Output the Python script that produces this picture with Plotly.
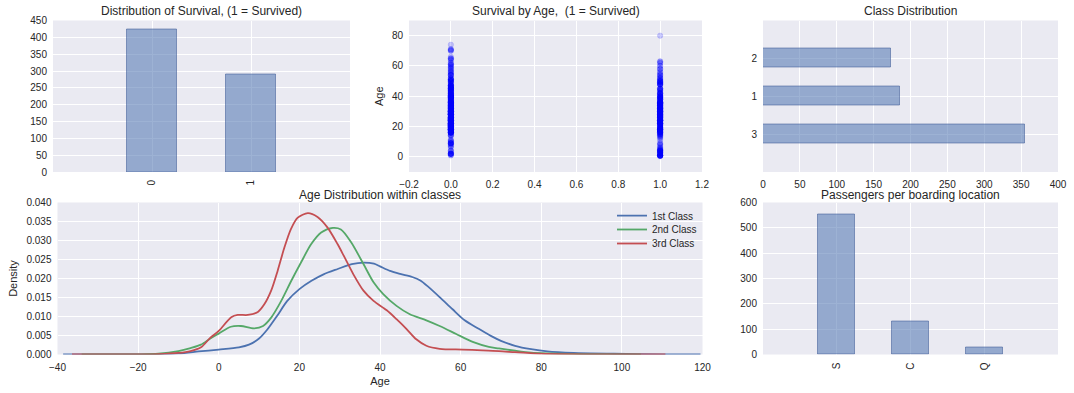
import plotly.graph_objects as go

# ---------------- data ----------------
survival_labels = ["0", "1"]
survival_counts = [424, 290]

died_ages = [1, 2, 3, 4, 6, 7, 8, 9, 10, 11, 14, 14.5, 15, 16, 17, 18, 19, 20, 20.5, 21, 22, 23, 24, 24.5,
             25, 26, 27, 28, 28.5, 29, 30, 30.5, 31, 32, 32.5, 33, 34, 34.5, 35, 36, 36.5, 37, 38, 39,
             40, 40.5, 41, 42, 43, 44, 45, 45.5, 46, 47, 48, 49, 50, 51, 52, 54, 55, 55.5, 56, 57, 58,
             59, 60, 61, 62, 64, 65, 66, 70, 70.5, 71, 74]
died_counts = [2, 7, 1, 3, 1, 2, 2, 6, 2, 3, 3, 1, 1, 11, 7, 17, 16, 12, 1, 19, 16, 10, 15, 1,
               17, 12, 7, 18, 2, 12, 15, 2, 8, 9, 1, 9, 9, 1, 7, 11, 1, 5, 5, 9,
               9, 2, 4, 7, 4, 6, 7, 2, 3, 8, 3, 2, 5, 5, 3, 5, 1, 1, 2, 2, 2,
               2, 2, 3, 2, 2, 3, 1, 2, 1, 2, 1]
surv_ages = [0.42, 0.67, 0.75, 0.83, 0.92, 1, 2, 3, 4, 5, 6, 7, 8, 9, 11, 12, 13, 14, 15, 16, 17, 18, 19,
             20, 21, 22, 23, 24, 25, 26, 27, 28, 29, 30, 31, 32, 32.5, 33, 34, 35, 36, 37, 38, 39, 40,
             41, 42, 43, 44, 45, 47, 48, 49, 50, 51, 52, 53, 54, 55, 56, 58, 60, 62, 63, 80]
surv_counts = [1, 1, 2, 2, 1, 5, 3, 5, 7, 4, 2, 1, 2, 2, 1, 1, 2, 3, 4, 6, 6, 9, 9,
               3, 5, 11, 5, 15, 6, 6, 11, 7, 8, 10, 7, 9, 1, 6, 6, 11, 11, 1, 6, 5, 6,
               2, 6, 1, 3, 5, 1, 6, 4, 5, 2, 3, 1, 3, 1, 2, 3, 2, 2, 2, 1]

class_labels = ["3", "1", "2"]
class_counts = [355, 186, 173]

kde1_x = [-38.6, -30, -20, -15, -10, -5, 0, 5, 7.5, 10, 12, 14.5, 17, 20, 23, 26, 29.5, 33, 36, 38.5,
          40, 42.5, 45, 48, 50, 52, 55, 58, 61, 64.6, 67.5, 70, 73.5, 77.5, 81.5, 88, 98, 110, 119.5]
kde1_y = [0.0, 0.00001, 0.00003, 0.0001, 0.0003, 0.0008, 0.0013, 0.0019, 0.0026, 0.0042, 0.0065,
          0.0102, 0.0141, 0.0172, 0.0194, 0.0211, 0.0225, 0.0238, 0.0242, 0.0239, 0.0232, 0.0220,
          0.0212, 0.0204, 0.0195, 0.0178, 0.0149, 0.0119, 0.0090, 0.0067, 0.0049, 0.0036, 0.0023,
          0.0014, 0.0008, 0.0004, 0.0002, 0.00005, 0.0]

kde2_x = [-34, -25, -20, -15, -10, -7, -4.4, -2, 0, 3, 5.5, 8.8, 11, 13, 15.5, 18, 20.4, 22.9, 25.4,
          28.3, 30.3, 32.8, 35.9, 38.4, 40.8, 44.1, 47.4, 51.5, 54.8, 58.9, 63, 67, 69.5, 73.5, 77.5,
          82, 90, 104.7]
kde2_y = [0.0, 0.00001, 0.00004, 0.0002, 0.0009, 0.0017, 0.0026, 0.0043, 0.0055, 0.0073, 0.0075,
          0.0069, 0.0075, 0.0097, 0.0141, 0.0194, 0.0242, 0.0290, 0.0321, 0.0333, 0.0329, 0.0296,
          0.0238, 0.0190, 0.0159, 0.0128, 0.0106, 0.0090, 0.0075, 0.0054, 0.0033, 0.0020, 0.0016,
          0.0010, 0.0005, 0.0003, 0.0001, 0.0]

kde3_x = [-36.4, -25, -20, -15, -10, -7, -4.4, -2, 0, 3.1, 4.7, 7.2, 9.7, 11.3, 13, 14.6, 16.3, 17.9,
          19.6, 22.1, 24.5, 27, 29.5, 31, 33.4, 35.9, 38.4, 41.6, 44.1, 46.6, 49, 51.5, 54.8, 60.5,
          65.4, 69.5, 73.5, 78, 85, 95, 110.8]
kde3_y = [0.0, 0.00001, 0.00003, 0.0001, 0.0004, 0.0009, 0.0019, 0.0045, 0.0062, 0.0098, 0.0104,
          0.0104, 0.0112, 0.0132, 0.0168, 0.0220, 0.0282, 0.0330, 0.0360, 0.0372, 0.0362, 0.0334,
          0.0290, 0.0260, 0.0211, 0.0168, 0.0141, 0.0117, 0.0093, 0.0067, 0.0040, 0.0023, 0.0015,
          0.0013, 0.0011, 0.0009, 0.0006, 0.0003, 0.0001, 0.00003, 0.0]
kde_names = ["1st Class", "2nd Class", "3rd Class"]

embark_labels = ["S", "C", "Q"]
embark_counts = [554, 130, 28]

# ---------------- style ----------------
W, H = 1074, 393
FONT = "Liberation Sans, Arial, sans-serif"
TXT = "#262626"
BG = "#EAEAF2"
BAR_FILL = "rgba(76,114,176,0.55)"
BAR_EDGE = "rgba(60,90,150,0.55)"
C_DEEP = ["#4C72B0", "#55A868", "#C44E52"]


def px_x(a, b):
    return [a / W, b / W]


def px_y(top, bottom):
    return [1 - bottom / H, 1 - top / H]


fig = go.Figure()

# top-left: survival distribution
fig.add_trace(go.Bar(x=[0, 1], y=survival_counts, width=0.5, marker=dict(color=BAR_FILL, line=dict(color=BAR_EDGE, width=1)),
                     xaxis="x", yaxis="y", showlegend=False))

# top-middle: survival by age scatter
sx, sy = [], []
for a, c in zip(died_ages, died_counts):
    sx += [0] * c
    sy += [a] * c
for a, c in zip(surv_ages, surv_counts):
    sx += [1] * c
    sy += [a] * c
fig.add_trace(go.Scatter(x=sx, y=sy, mode="markers",
                         marker=dict(size=5.5, color="rgba(0,0,255,0.2)", line=dict(width=0.5, color="rgba(0,0,255,0.2)")),
                         xaxis="x2", yaxis="y2", showlegend=False))

# top-right: class distribution
fig.add_trace(go.Bar(y=[0, 1, 2], x=class_counts, orientation="h", width=0.5,
                     marker=dict(color=BAR_FILL, line=dict(color=BAR_EDGE, width=1)),
                     xaxis="x3", yaxis="y3", showlegend=False))

# bottom-left: KDE (one legend box per entry so rows sit close together)
legend_ids = ["legend", "legend2", "legend3"]
for kx, ky, nm, col, lg in zip([kde1_x, kde2_x, kde3_x], [kde1_y, kde2_y, kde3_y], kde_names, C_DEEP, legend_ids):
    fig.add_trace(go.Scatter(x=kx, y=ky, mode="lines", name=nm, legend=lg,
                             line=dict(color=col, width=1.8, shape="spline", smoothing=0.8),
                             xaxis="x4", yaxis="y4"))

# bottom-right: embarkation
fig.add_trace(go.Bar(x=[0, 1, 2], y=embark_counts, width=0.5, marker=dict(color=BAR_FILL, line=dict(color=BAR_EDGE, width=1)),
                     xaxis="x5", yaxis="y5", showlegend=False))

tickfont = dict(family=FONT, size=10, color=TXT)
common = dict(showgrid=True, gridcolor="white", gridwidth=1, zeroline=False, showline=False,
              ticks="", tickfont=tickfont, ticklabelstandoff=5, fixedrange=True)

TOP = px_y(20.5, 172)
BOT = px_y(202.5, 354.5)

leg_common = dict(xanchor="left", yanchor="middle", bgcolor="rgba(0,0,0,0)",
                  font=dict(family=FONT, size=10, color=TXT), itemwidth=30)
LEG_X = 612 / W

fig.update_layout(
    width=W, height=H, margin=dict(l=0, r=0, t=0, b=0, autoexpand=False),
    paper_bgcolor="white", plot_bgcolor=BG,
    font=dict(family=FONT, size=10, color=TXT),
    bargap=0,
    xaxis=dict(domain=px_x(53, 350), range=[-1, 2], tickvals=[0, 1], ticktext=survival_labels,
               tickangle=-90, anchor="y", **common),
    yaxis=dict(domain=TOP, range=[0, 450], dtick=50, anchor="x", **common),
    xaxis2=dict(domain=px_x(409, 702), range=[-0.2, 1.2], dtick=0.2, tickformat=".1f", anchor="y2", **common),
    yaxis2=dict(domain=TOP, range=[-10, 90], tickvals=[0, 20, 40, 60, 80], anchor="x2",
                title=dict(text="Age", font=dict(family=FONT, size=11, color=TXT), standoff=6), **common),
    xaxis3=dict(domain=px_x(763, 1058), range=[0, 400], dtick=50, anchor="y3", **common),
    yaxis3=dict(domain=TOP, range=[-1, 3], tickvals=[0, 1, 2], ticktext=class_labels, anchor="x3", **common),
    xaxis4=dict(domain=px_x(57.5, 702.5), range=[-40, 120], dtick=20, anchor="y4",
                title=dict(text="Age", font=dict(family=FONT, size=11, color=TXT), standoff=5), **common),
    yaxis4=dict(domain=BOT, range=[0, 0.04], dtick=0.005, tickformat=".3f", anchor="x4",
                title=dict(text="Density", font=dict(family=FONT, size=11, color=TXT), standoff=6), **common),
    xaxis5=dict(domain=px_x(763, 1058), range=[-1, 3], tickvals=[0, 1, 2], ticktext=embark_labels,
                tickangle=-90, anchor="y5", **common),
    yaxis5=dict(domain=BOT, range=[0, 600], dtick=100, anchor="x5", **common),
    legend=dict(x=LEG_X, y=1 - 215.7 / H, **leg_common),
    legend2=dict(x=LEG_X, y=1 - 229.5 / H, **leg_common),
    legend3=dict(x=LEG_X, y=1 - 243.5 / H, **leg_common),
)

titles = [
    ("Distribution of Survival, (1 = Survived)", (53 + 350) / 2, 11.5),
    ("Survival by Age,  (1 = Survived)", (409 + 702) / 2, 11.5),
    ("Class Distribution", (763 + 1058) / 2, 11.5),
    ("Age Distribution within classes", (57.5 + 702.5) / 2, 194.5),
    ("Passengers per boarding location", (763 + 1058) / 2, 194.5),
]
for t, cx, cy in titles:
    fig.add_annotation(text=t, x=cx / W, y=1 - cy / H, xref="paper", yref="paper", showarrow=False,
                       xanchor="center", yanchor="middle", font=dict(family=FONT, size=12, color=TXT))

fig.write_html("out.html", config={"displayModeBar": False},
               post_script="document.body.style.margin='0';document.body.style.overflow='hidden';")
